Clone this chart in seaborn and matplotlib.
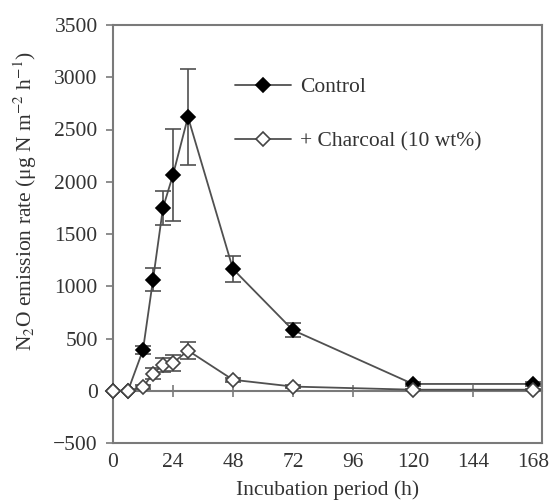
import numpy as np
import pandas as pd
import matplotlib
matplotlib.use("Agg")
import matplotlib.pyplot as plt
import seaborn as sns

# ===============================
# Data
# ===============================
hours = [0, 6, 12, 16, 20, 24, 30, 48, 72, 120, 168]
control = [0, 0, 390, 1060, 1750, 2065, 2620, 1165, 580, 65, 65]
control_err = [0, 0, 40, 110, 165, 440, 460, 125, 70, 20, 20]
charcoal = [0, 0, 35, 165, 245, 265, 385, 105, 40, 10, 10]
charcoal_err = [0, 0, 20, 50, 70, 80, 80, 20, 15, 5, 5]

x_ticks = [0, 24, 48, 72, 96, 120, 144, 168]
y_ticks = [-500, 0, 500, 1000, 1500, 2000, 2500, 3000, 3500]
y_min, y_max = -500, 3500

df = pd.DataFrame({
    "hours": hours * 2,
    "rate": control + charcoal,
    "err": control_err + charcoal_err,
    "treatment": ["Control"] * len(hours) + ["+ Charcoal (10 wt%)"] * len(hours),
})

# ===============================
# Style
# ===============================
sns.set_theme(style="white")
plt.rcParams["font.family"] = ["Liberation Serif", "DejaVu Serif"]
plt.rcParams["mathtext.fontset"] = "stix"
plt.rcParams["text.color"] = "#333333"
plt.rcParams["axes.labelcolor"] = "#333333"
plt.rcParams["xtick.color"] = "#333333"
plt.rcParams["ytick.color"] = "#333333"

fs = 15.5
line_col = "#505050"
spine_col = "#7a7a7a"

fig = plt.figure(figsize=(5.58, 5.0), dpi=100)
ax = fig.add_axes([0.2025, 0.114, 0.7685, 0.836])

styles = {
    "Control": dict(marker="D", mfc="black", mec="black", z=3),
    "+ Charcoal (10 wt%)": dict(marker="D", mfc="white", mec="#444444", z=4),
}

for name, st in styles.items():
    sub = df[df["treatment"] == name]
    ax.errorbar(sub["hours"], sub["rate"], yerr=sub["err"], fmt="none",
                ecolor=line_col, elinewidth=1.2, capsize=6, capthick=1.2,
                zorder=st["z"] - 1)
    sns.lineplot(data=sub, x="hours", y="rate", ax=ax, color=line_col,
                 linewidth=1.3, marker=st["marker"], markersize=7,
                 markerfacecolor=st["mfc"], markeredgecolor=st["mec"],
                 markeredgewidth=1.2, label=name, zorder=st["z"],
                 errorbar=None, clip_on=False)

# axes limits and ticks
ax.set_xlim(0, 171.6)
ax.set_ylim(y_min, y_max)
ax.set_xticks(x_ticks)
ax.set_yticks(y_ticks)
ax.tick_params(axis="x", length=0, labelsize=fs, pad=7)
ax.tick_params(axis="y", direction="out", length=5, width=1.2,
               color=spine_col, labelsize=fs, pad=6, left=True)
for s in ax.spines.values():
    s.set_color(spine_col)
    s.set_linewidth(1.5)

# zero line with crossing ticks
zero_frac = (0 - y_min) / (y_max - y_min)
zax = ax.secondary_xaxis(zero_frac)
zax.set_xticks(x_ticks[1:])
zax.tick_params(direction="inout", length=9, width=1.2, color=spine_col,
                labelbottom=False, labeltop=False)
zax.spines["bottom"].set_color(spine_col)
zax.spines["bottom"].set_linewidth(1.5)

ax.set_xlabel("Incubation period (h)", fontsize=fs, labelpad=6)
ax.set_ylabel(r"N$_2$O emission rate (μg N m$^{-2}$ h$^{-1}$)", fontsize=fs)
ax.yaxis.set_label_coords(-0.172, 0.58)

leg = ax.legend(loc="upper left", bbox_to_anchor=(0.285, 0.875), frameon=False,
                fontsize=fs, handlelength=2.6, handletextpad=0.4,
                labelspacing=1.6, borderpad=0, borderaxespad=0)

fig.savefig("out.png", dpi=100)
